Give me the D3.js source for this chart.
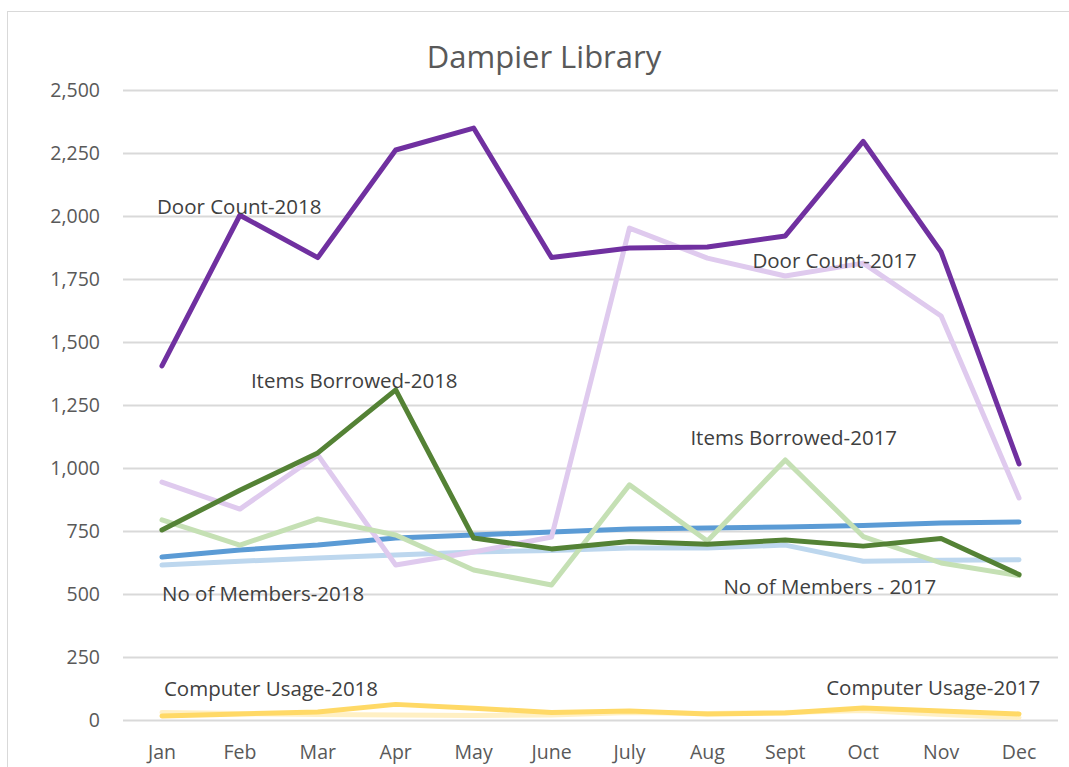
<!DOCTYPE html>
<html>
<head>
<meta charset="utf-8">
<script src="https://cdn.jsdelivr.net/npm/d3@7"></script>
<style>
    body { margin: 0; background: #fff; }
    svg { display: block; font-family: "Open Sans", sans-serif; }
</style>
</head>
<body>
<svg id="chart" width="1069" height="767"></svg>
<script>
const svg = d3.select("#chart");
const width = 1069;
const height = 767;

const margin = {
    "T": 90,
    "B": 47,
    "R": 11,
    "L": 123,
};

// ---- DATA ---- //

const months = ["Jan", "Feb", "Mar", "Apr", "May", "June", "July", "Aug", "Sept", "Oct", "Nov", "Dec"];
const yTicks = [0, 250, 500, 750, 1000, 1250, 1500, 1750, 2000, 2250, 2500];

const doorCount2018 = [1405, 2003, 1835, 2262, 2349, 1835, 1873, 1877, 1921, 2296, 1857, 1016];
const doorCount2017 = [944, 837, 1052, 615, 667, 726, 1952, 1833, 1762, 1813, 1603, 881];
const itemsBorrowed2018 = [754, 912, 1060, 1310, 722, 679, 708, 697, 714, 690, 720, 577];
const itemsBorrowed2017 = [794, 694, 798, 734, 595, 536, 933, 710, 1032, 728, 623, 573];
const members2018 = [647, 675, 694, 722, 734, 746, 758, 762, 766, 772, 782, 786];
const members2017 = [615, 630, 643, 655, 667, 673, 683, 683, 694, 630, 634, 636];
const computer2018 = [16, 24, 32, 62, 47, 30, 36, 24, 28, 48, 36, 24];
const computer2017 = [30, 26, 22, 20, 18, 20, 30, 26, 30, 38, 22, 10];

// drawing order follows the workbook's series order
const series = [
    { "name": "No of Members - 2017", "values": members2017, "color": "#bdd7ee" },
    { "name": "No of Members-2018", "values": members2018, "color": "#5b9bd5" },
    { "name": "Door Count-2017", "values": doorCount2017, "color": "#dfcaee" },
    { "name": "Door Count-2018", "values": doorCount2018, "color": "#7030a0" },
    { "name": "Items Borrowed-2017", "values": itemsBorrowed2017, "color": "#c5e0b4" },
    { "name": "Items Borrowed-2018", "values": itemsBorrowed2018, "color": "#548235" },
    { "name": "Computer Usage-2017", "values": computer2017, "color": "#fff0c4" },
    { "name": "Computer Usage-2018", "values": computer2018, "color": "#ffd966" },
];

// free-floating series labels (anchor month index + value the baseline sits at)
const labels = [
    { "text": "Door Count-2018", "month": 0, "value": 2006, "dx": -5 },
    { "text": "Door Count-2017", "month": 7, "value": 1793, "dx": 45 },
    { "text": "Items Borrowed-2018", "month": 1, "value": 1316, "dx": 11 },
    { "text": "Items Borrowed-2017", "month": 7, "value": 1091, "dx": -17 },
    { "text": "No of Members-2018", "month": 0, "value": 471, "dx": 0 },
    { "text": "No of Members - 2017", "month": 7, "value": 499, "dx": 16 },
    { "text": "Computer Usage-2018", "month": 0, "value": 96, "dx": 2 },
    { "text": "Computer Usage-2017", "month": 9, "value": 99, "dx": -37 },
];

// ---- FRAME + TITLE ---- //

svg.append("rect")
    .attr("x", 7.5)
    .attr("y", 11.5)
    .attr("width", width + 20)
    .attr("height", height + 20)
    .attr("fill", "none")
    .attr("stroke", "#d9d9d9");

svg.append("text")
    .attr("x", 544)
    .attr("y", 68)
    .attr("text-anchor", "middle")
    .attr("fill", "#595959")
    .style("font-size", "31px")
    .text("Dampier Library");

// ---- AXES ---- //

const xScale = d3.scaleBand()
    .domain(months)
    .range([margin.L, width - margin.R]);
const yScale = d3.scaleLinear()
    .domain([0, 2500])
    .range([height - margin.B, margin.T]);

const xPos = m => xScale(m) + xScale.bandwidth() / 2;

const grid = svg.append("g")
    .attr("class", "grid")
    .attr("transform", `translate(${margin.L}, 0)`)
    .call(d3.axisLeft(yScale)
        .tickValues(yTicks)
        .tickSize(-(width - margin.L - margin.R))
        .tickFormat(d3.format(",")));
grid.select(".domain").remove();
grid.selectAll(".tick line")
    .attr("stroke", "#d9d9d9")
    .attr("stroke-width", 2);
grid.selectAll(".tick text")
    .attr("x", -23)
    .attr("fill", "#595959")
    .style("font-size", "19.5px")
    .style("font-family", "Open Sans, sans-serif");

const xAxis = svg.append("g")
    .attr("class", "x-axis")
    .attr("transform", `translate(0, ${height - margin.B})`)
    .call(d3.axisBottom(xScale).tickSize(0));
xAxis.select(".domain").remove();
xAxis.selectAll(".tick text")
    .attr("y", 25)
    .attr("fill", "#595959")
    .style("font-size", "19.5px")
    .style("font-family", "Open Sans, sans-serif");

// ---- LINES ---- //

const line = d3.line()
    .x((d, i) => xPos(months[i]))
    .y(d => yScale(d));

svg.selectAll(".series")
    .data(series)
    .enter()
    .append("path")
        .attr("class", "series")
        .attr("d", d => line(d.values))
        .attr("fill", "none")
        .attr("stroke", d => d.color)
        .attr("stroke-width", 5)
        .attr("stroke-linejoin", "round")
        .attr("stroke-linecap", "round");

// ---- LABELS ---- //

svg.selectAll(".label")
    .data(labels)
    .enter()
    .append("text")
        .attr("class", "label")
        .attr("x", d => xPos(months[d.month]) + d.dx)
        .attr("y", d => yScale(d.value))
        .attr("fill", "#404040")
        .style("font-size", "20.5px")
        .text(d => d.text);
</script>
</body>
</html>
